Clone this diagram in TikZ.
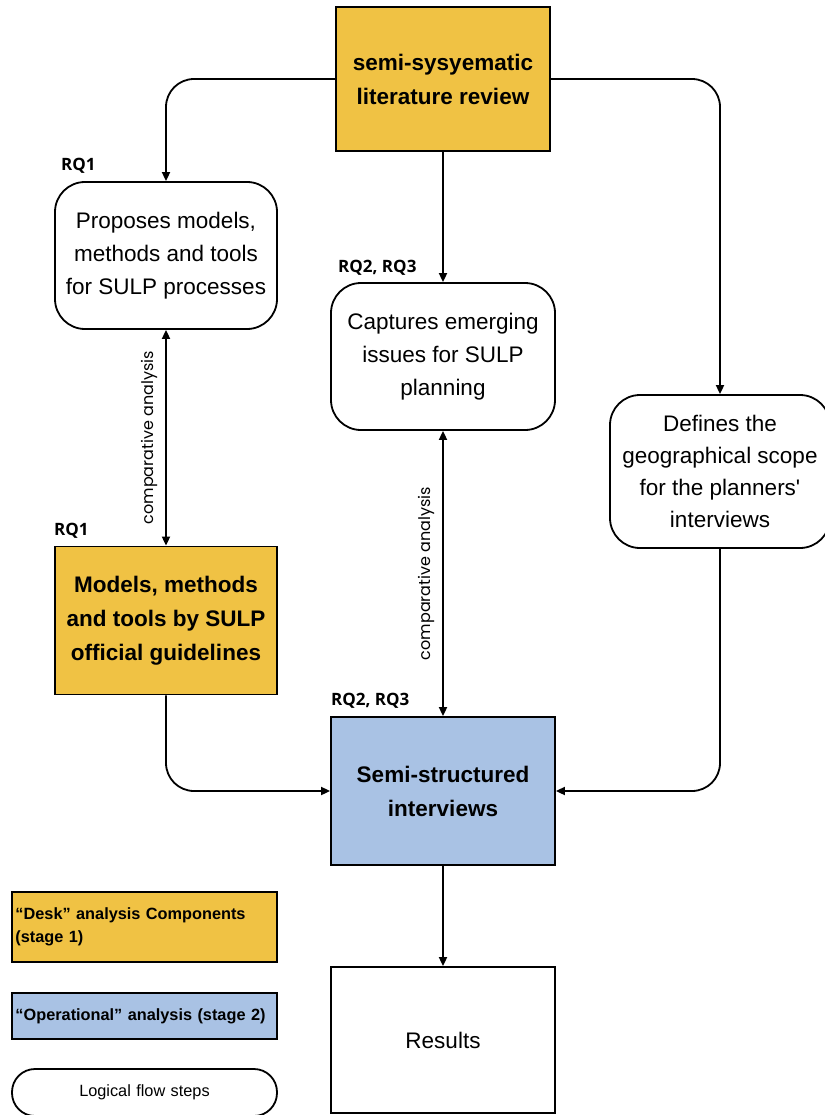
\documentclass[tikz,border=0pt]{standalone}
\usepackage{fontspec}
\setmainfont{Liberation Sans}
\newfontfamily\rqfont{Open Sans}
\newfontfamily\cmpfont{Poppins}
\usetikzlibrary{arrows.meta}
\definecolor{deskgold}{HTML}{F0C244}
\definecolor{opblue}{HTML}{A9C2E4}
\tikzset{
    box/.style={draw, line width=1.8pt, align=center, inner sep=4pt,
        font=\fontsize{22.5}{33}\selectfont},
    deskbox/.style={box, fill=deskgold, font=\bfseries\fontsize{22.5}{34}\selectfont},
    opbox/.style={box, fill=opblue, font=\bfseries\fontsize{22.5}{34}\selectfont},
    flowstep/.style={box, rounded corners=30pt},
    rq/.style={font=\rqfont\bfseries\fontsize{17}{20}\selectfont, inner sep=0pt, anchor=west},
    cmp/.style={font=\cmpfont\fontsize{16}{18}\selectfont, rotate=90, anchor=south, inner sep=7pt},
    flow/.style={line width=1.8pt, -{Triangle[length=9pt,width=8pt]}},
    twoway/.style={line width=1.8pt, {Triangle[length=9pt,width=8pt]}-{Triangle[length=9pt,width=8pt]}},
    keybox/.style={draw, line width=1.8pt, minimum width=265pt, text width=258pt,
        align=left, inner xsep=3.5pt, font=\fontsize{16.3}{23}\selectfont},
}
\begin{document}
\begin{tikzpicture}[x=1pt,y=-1pt]
    \useasboundingbox (0,0) rectangle (824,1115);

    % Boxes
    \node[deskbox, minimum width=214pt, minimum height=144pt] (lit) at (443,79)
        {semi-sysyematic\\literature review};
    \node[flowstep, minimum width=222pt, minimum height=147pt] (prop) at (166,255.5)
        {Proposes models,\\methods and tools\\for SULP processes};
    \node[flowstep, minimum width=224pt, minimum height=147pt] (cap) at (443,356.5)
        {Captures emerging\\issues for SULP\\planning};
    \node[flowstep, minimum width=220pt, minimum height=153pt, font=\fontsize{22.5}{32.3}\selectfont]
        (def) at (720,471.5)
        {Defines the\\geographical scope\\for the planners\textquotesingle\\interviews};
    \node[deskbox, minimum width=222pt, minimum height=148pt] (mod) at (166,620.5)
        {Models, methods\\and tools by SULP\\official guidelines};
    \node[opbox, minimum width=224pt, minimum height=148pt] (semi) at (443,791)
        {Semi-structured\\interviews};
    \node[box, minimum width=224pt, minimum height=146pt] (res) at (443,1040)
        {Results};

    % RQ labels
    \node[rq] (rqprop) at (61,166) {RQ1};
    \node[rq] (rqcap) at (338,268) {RQ2, RQ3};
    \node[rq] (rqmod) at (54,530.5) {RQ1};
    \node[rq] (rqsemi) at (331,701) {RQ2, RQ3};

    % Connectors
    \draw[flow, rounded corners=28pt] (lit.west) -| (prop.north);
    \draw[flow, rounded corners=28pt] (lit.east) -| (def.north);
    \draw[flow] (lit.south) -- (cap.north);
    \draw[twoway] (prop.south) -- node[cmp] {comparative analysis} (mod.north);
    \draw[twoway] (cap.south) -- node[cmp] {comparative analysis} (semi.north);
    \draw[flow, rounded corners=28pt] (mod.south) |- (semi.west);
    \draw[flow, rounded corners=28pt] (def.south) |- (semi.east);
    \draw[flow] (semi.south) -- (res.north);

    % Legend
    \node[keybox, fill=deskgold, minimum height=70pt, font=\bfseries\fontsize{16.3}{23}\selectfont]
        (keydesk) at (144.5,927) {“Desk” analysis Components\\(stage 1)};
    \node[keybox, fill=opblue, minimum height=46pt, font=\bfseries\fontsize{16.3}{23}\selectfont]
        (keyop) at (144.5,1016) {“Operational” analysis (stage 2)};
    \node[keybox, rounded corners=23pt, minimum height=47pt, align=center]
        (keyflow) at (144.5,1092.5) {Logical flow steps};
\end{tikzpicture}
\end{document}
